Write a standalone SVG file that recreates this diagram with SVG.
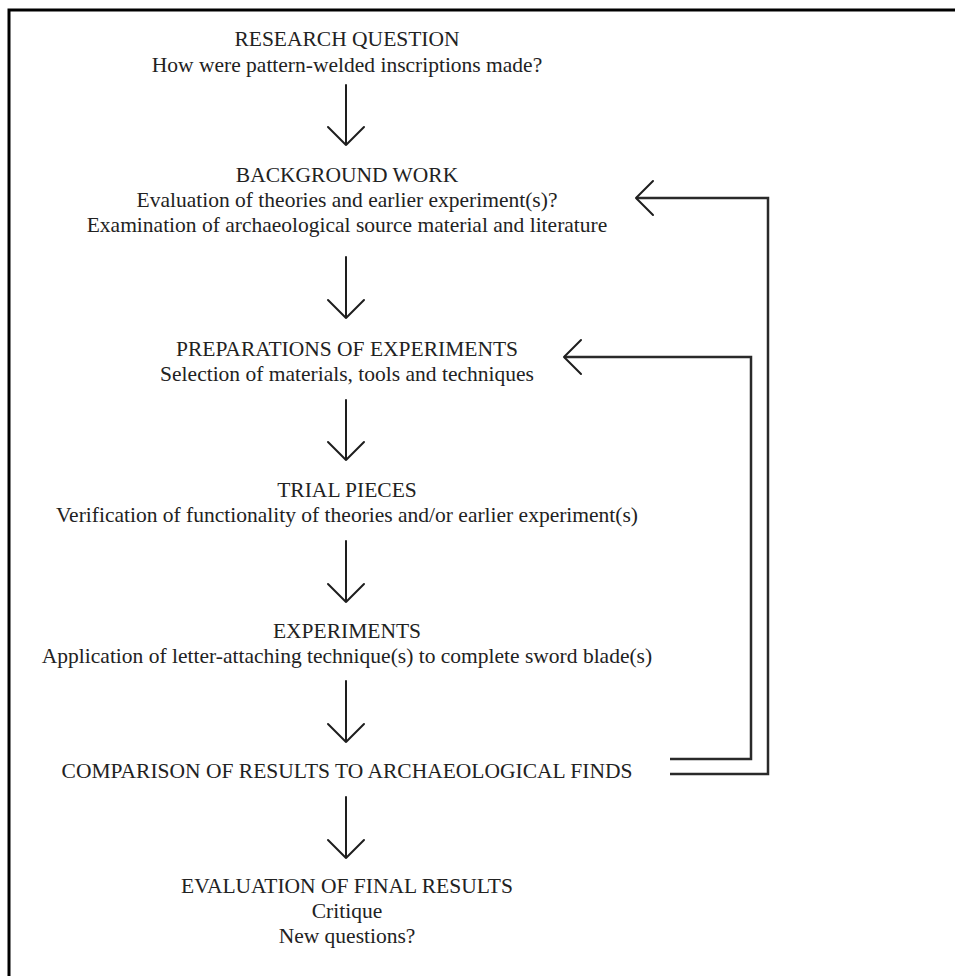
<svg xmlns="http://www.w3.org/2000/svg" width="955" height="976" viewBox="0 0 955 976">
<defs>
<style>
.t{font-family:"Liberation Serif","Times New Roman",serif;font-size:21.5px;fill:#222;text-anchor:middle}
.c{fill:none;stroke:#1e1e1e;stroke-width:2;stroke-linecap:round;stroke-linejoin:round}
.l{fill:none;stroke:#2a2a2a;stroke-width:2.5;stroke-linejoin:miter}
.f{fill:none;stroke:#000;stroke-width:3}
</style>
</defs>
<rect width="955" height="976" fill="#fff"/>
<g id="frame"><path class="f" d="M9,976 V10 H955"/></g>
<g id="n1"><text class="t" x="347" y="46">RESEARCH QUESTION</text><text class="t" x="347" y="72">How were pattern-welded inscriptions made?</text></g>
<g id="n2"><text class="t" x="347" y="182">BACKGROUND WORK</text><text class="t" x="347" y="207">Evaluation of theories and earlier experiment(s)?</text><text class="t" x="347" y="232">Examination of archaeological source material and literature</text></g>
<g id="n3"><text class="t" x="347" y="356">PREPARATIONS OF EXPERIMENTS</text><text class="t" x="347" y="381">Selection of materials, tools and techniques</text></g>
<g id="n4"><text class="t" x="347" y="497">TRIAL PIECES</text><text class="t" x="347" y="522">Verification of functionality of theories and/or earlier experiment(s)</text></g>
<g id="n5"><text class="t" x="347" y="638">EXPERIMENTS</text><text class="t" x="347" y="663">Application of letter-attaching technique(s) to complete sword blade(s)</text></g>
<g id="n6"><text class="t" x="347" y="778">COMPARISON OF RESULTS TO ARCHAEOLOGICAL FINDS</text></g>
<g id="n7"><text class="t" x="347" y="893">EVALUATION OF FINAL RESULTS</text><text class="t" x="347" y="918">Critique</text><text class="t" x="347" y="943">New questions?</text></g>
<g id="connectors">
<path class="c" d="M346,85 V145 M328,127 L346,145 L364,127"/>
<path class="c" d="M346,257 V318 M328,300 L346,318 L364,300"/>
<path class="c" d="M346,400 V460 M328,442 L346,460 L364,442"/>
<path class="c" d="M346,541 V602 M328,584 L346,602 L364,584"/>
<path class="c" d="M346,681 V742 M328,724 L346,742 L364,724"/>
<path class="c" d="M346,797 V858 M328,840 L346,858 L364,840"/>
<path class="l" d="M670,774 H768 V198 H636"/>
<path class="c" d="M653,181 L636,198 L653,215"/>
<path class="l" d="M670,759 H751 V357 H564"/>
<path class="c" d="M581,340 L564,357 L581,374"/>
</g>
</svg>
